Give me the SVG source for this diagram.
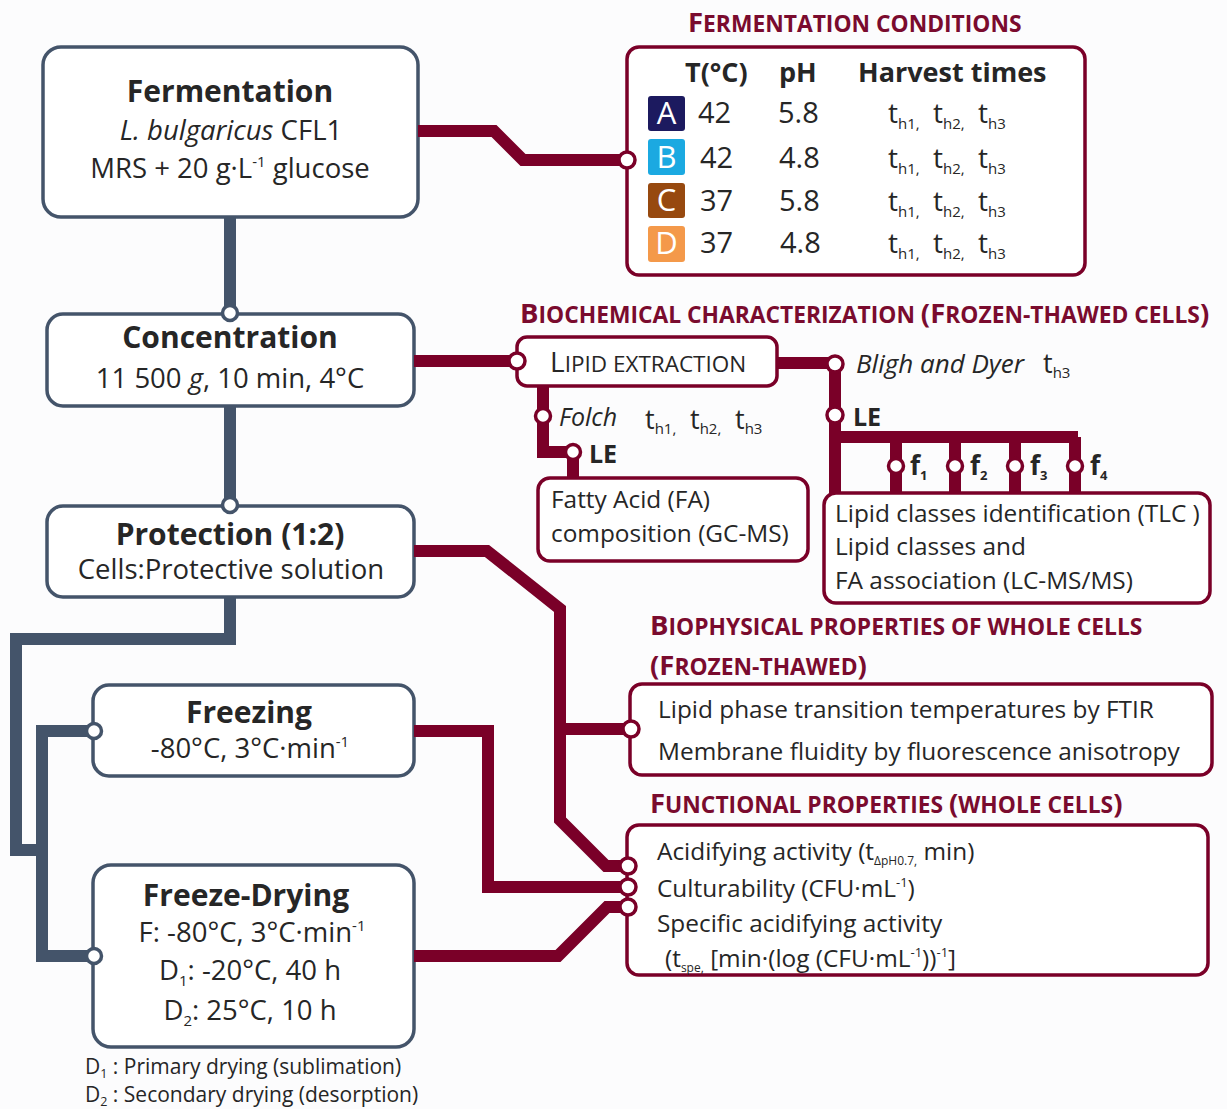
<svg xmlns="http://www.w3.org/2000/svg" width="1227" height="1109" viewBox="0 0 1227 1109">
  <style>
    text { font-family: "Open Sans", "Noto Sans", "DejaVu Sans", sans-serif; fill: #262626; }
    .ttl { font-size: 30px; font-weight: bold; text-anchor: middle; }
    .bd { font-size: 27.5px; text-anchor: middle; }
    .tx { font-size: 24.4px; }
    .hd { font-weight: bold; fill: #7a0b2e; }
    .big { font-size: 27.5px; }
    .sm { font-size: 22.8px; }
    .gbox { fill: #fff; stroke: #44546a; stroke-width: 3.5; }
    .rbox { fill: #fff; stroke: #7a0028; stroke-width: 3.5; }
    .gline { fill: none; stroke: #44546a; stroke-width: 12; stroke-linejoin: miter; }
    .rline { fill: none; stroke: #7a0028; stroke-width: 12; stroke-linejoin: miter; }
    .gdot { fill: #fff; stroke: #44546a; stroke-width: 3.5; }
    .rdot { fill: #fff; stroke: #7a0028; stroke-width: 3.5; }
    .key { fill: #fff; font-size: 31px; text-anchor: middle; }
  </style>
  <rect width="1227" height="1109" fill="#fcfcfd"/>

  <!-- process steps -->
  <g id="fermentation">
    <rect class="gbox" x="43" y="47" width="375" height="170" rx="18"/>
    <text class="ttl" x="230" y="102">Fermentation</text>
    <text class="bd" x="231" y="140" font-size="28.5"><tspan font-style="italic">L. bulgaricus</tspan> CFL1</text>
    <text class="bd" x="230" y="178" font-size="28.5">MRS + 20 g·L<tspan font-size="15" dy="-11">-1</tspan><tspan dy="11"> glucose</tspan></text>
  </g>
  <g id="concentration">
    <rect class="gbox" x="47" y="314" width="367" height="92" rx="16"/>
    <text class="ttl" x="230" y="348">Concentration</text>
    <text class="bd" x="230" y="388" font-size="28">11 500 <tspan font-style="italic">g</tspan>, 10 min, 4°C</text>
  </g>
  <g id="protection">
    <rect class="gbox" x="47" y="506" width="367" height="91" rx="16"/>
    <text class="ttl" x="230" y="545">Protection (1:2)</text>
    <text class="bd" x="231" y="579">Cells:Protective solution</text>
  </g>
  <g id="freezing">
    <rect class="gbox" x="93" y="685" width="321" height="91" rx="16"/>
    <text class="ttl" x="249" y="723">Freezing</text>
    <text class="bd" x="250" y="758">-80°C, 3°C·min<tspan font-size="15" dy="-11">-1</tspan></text>
  </g>
  <g id="freeze-drying">
    <rect class="gbox" x="93" y="865" width="321" height="182" rx="18"/>
    <text class="ttl" x="246" y="906">Freeze-Drying</text>
    <text class="bd" x="252" y="942">F: -80°C, 3°C·min<tspan font-size="15" dy="-11">-1</tspan></text>
    <text class="bd" x="250" y="980">D<tspan font-size="15" dy="6">1</tspan><tspan dy="-6">: -20°C, 40 h</tspan></text>
    <text class="bd" x="250" y="1020">D<tspan font-size="15" dy="6">2</tspan><tspan dy="-6">: 25°C, 10 h</tspan></text>
  </g>
  <g id="drying-notes">
    <text x="85" y="1074" font-size="21">D<tspan font-size="12.5" dy="4">1</tspan><tspan dy="-4"> : Primary drying (sublimation)</tspan></text>
    <text x="85" y="1102" font-size="21">D<tspan font-size="12.5" dy="4">2</tspan><tspan dy="-4"> : Secondary drying (desorption)</tspan></text>
  </g>

  <!-- fermentation conditions table -->
  <g id="fermentation-conditions">
    <text class="hd" x="688" y="32"><tspan class="big">F</tspan><tspan class="sm">ERMENTATION CONDITIONS</tspan></text>
    <rect class="rbox" x="627" y="47" width="458" height="228" rx="12"/>
    <g font-size="27" font-weight="bold">
      <text x="685" y="82">T(°C)</text>
      <text x="779" y="82">pH</text>
      <text x="858" y="82">Harvest times</text>
    </g>
    <rect x="648" y="96" width="37" height="35" rx="3" fill="#1c1a5f"/>
    <rect x="648" y="139" width="37" height="36" rx="3" fill="#1ba9e1"/>
    <rect x="648" y="183" width="37" height="35" rx="3" fill="#97490f"/>
    <rect x="648" y="226" width="37" height="36" rx="3" fill="#f4994a"/>
    <text class="key" x="666.5" y="124">A</text>
    <text class="key" x="666.5" y="168">B</text>
    <text class="key" x="666.5" y="211">C</text>
    <text class="key" x="666.5" y="254">D</text>
    <g font-size="29">
      <text x="698" y="123">42</text><text x="778" y="123">5.8</text>
      <text x="700" y="168">42</text><text x="779" y="168">4.8</text>
      <text x="700" y="211">37</text><text x="779" y="211">5.8</text>
      <text x="700" y="253">37</text><text x="780" y="253">4.8</text>
    </g>
    <g font-size="28">
      <text y="123"><tspan x="888">t</tspan><tspan font-size="15" dy="6">h1,</tspan><tspan x="933" dy="-6">t</tspan><tspan font-size="15" dy="6">h2,</tspan><tspan x="978" dy="-6">t</tspan><tspan font-size="15" dy="6">h3</tspan></text>
      <text y="168"><tspan x="888">t</tspan><tspan font-size="15" dy="6">h1,</tspan><tspan x="933" dy="-6">t</tspan><tspan font-size="15" dy="6">h2,</tspan><tspan x="978" dy="-6">t</tspan><tspan font-size="15" dy="6">h3</tspan></text>
      <text y="211"><tspan x="888">t</tspan><tspan font-size="15" dy="6">h1,</tspan><tspan x="933" dy="-6">t</tspan><tspan font-size="15" dy="6">h2,</tspan><tspan x="978" dy="-6">t</tspan><tspan font-size="15" dy="6">h3</tspan></text>
      <text y="253"><tspan x="888">t</tspan><tspan font-size="15" dy="6">h1,</tspan><tspan x="933" dy="-6">t</tspan><tspan font-size="15" dy="6">h2,</tspan><tspan x="978" dy="-6">t</tspan><tspan font-size="15" dy="6">h3</tspan></text>
    </g>
  </g>

  <!-- biochemical characterization -->
  <g id="biochemical-title">
    <text class="hd" x="520" y="323"><tspan class="big">B</tspan><tspan class="sm">IOCHEMICAL CHARACTERIZATION </tspan><tspan class="big">(F</tspan><tspan class="sm">ROZEN-THAWED CELLS</tspan><tspan class="big">)</tspan></text>
  </g>
  <g id="lipid-extraction">
    <rect class="rbox" x="517" y="337" width="260" height="49" rx="10"/>
    <text x="550" y="372"><tspan font-size="28">L</tspan><tspan font-size="22.5">IPID EXTRACTION</tspan></text>
  </g>
  <g id="folch-label">
    <text x="559" y="426" font-size="25" font-style="italic">Folch</text>
    <text font-size="27" y="429"><tspan x="645">t</tspan><tspan font-size="15" dy="5">h1,</tspan><tspan x="690" dy="-5">t</tspan><tspan font-size="15" dy="5">h2,</tspan><tspan x="735" dy="-5">t</tspan><tspan font-size="15" dy="5">h3</tspan></text>
    <text x="589" y="463" font-size="25" font-weight="bold">LE</text>
  </g>
  <g id="fatty-acid">
    <rect class="rbox" x="538" y="478" width="270" height="83" rx="12"/>
    <text class="tx" x="551" y="508">Fatty Acid (FA)</text>
    <text class="tx" x="551" y="542">composition (GC-MS)</text>
  </g>
  <g id="bligh-dyer-label">
    <text x="856" y="373" font-size="26" font-style="italic">Bligh and Dyer</text>
    <text font-size="27" y="373"><tspan x="1043">t</tspan><tspan font-size="15" dy="5">h3</tspan></text>
    <text x="853" y="426" font-size="25" font-weight="bold">LE</text>
    <g font-weight="bold" font-size="26">
      <text x="910" y="475">f<tspan font-size="13" dy="5">1</tspan></text>
      <text x="970" y="475">f<tspan font-size="13" dy="5">2</tspan></text>
      <text x="1030" y="475">f<tspan font-size="13" dy="5">3</tspan></text>
      <text x="1090" y="475">f<tspan font-size="13" dy="5">4</tspan></text>
    </g>
  </g>
  <g id="lipid-classes">
    <rect class="rbox" x="824" y="493" width="386" height="110" rx="12"/>
    <text class="tx" x="835" y="522">Lipid classes identification (TLC )</text>
    <text class="tx" x="835" y="555">Lipid classes and</text>
    <text class="tx" x="835" y="589">FA association (LC-MS/MS)</text>
  </g>

  <!-- biophysical properties -->
  <g id="biophysical">
    <text class="hd" x="650" y="635"><tspan class="big">B</tspan><tspan class="sm">IOPHYSICAL PROPERTIES OF WHOLE CELLS</tspan></text>
    <text class="hd" x="650" y="675"><tspan class="big">(F</tspan><tspan class="sm">ROZEN-THAWED</tspan><tspan class="big">)</tspan></text>
    <rect class="rbox" x="630" y="684" width="582" height="91" rx="12"/>
    <text class="tx" x="658" y="718">Lipid phase transition temperatures by FTIR</text>
    <text class="tx" x="658" y="760">Membrane fluidity by fluorescence anisotropy</text>
  </g>

  <!-- functional properties -->
  <g id="functional">
    <text class="hd" x="650" y="813"><tspan class="big">F</tspan><tspan class="sm">UNCTIONAL PROPERTIES </tspan><tspan class="big">(</tspan><tspan class="sm">WHOLE CELLS</tspan><tspan class="big">)</tspan></text>
    <rect class="rbox" x="627" y="825" width="581" height="150" rx="12"/>
    <text class="tx" x="657" y="860">Acidifying activity (t<tspan font-size="12" dy="5">ΔpH0.7,</tspan><tspan dy="-5"> min)</tspan></text>
    <text class="tx" x="657" y="897">Culturability (CFU·mL<tspan font-size="13" dy="-10">-1</tspan><tspan dy="10">)</tspan></text>
    <text class="tx" x="657" y="932">Specific acidifying activity</text>
    <text class="tx" x="665" y="967">(t<tspan font-size="12" dy="5">spe,</tspan><tspan dy="-5"> [min·(log (CFU·mL</tspan><tspan font-size="13" dy="-10">-1</tspan><tspan dy="10">))</tspan><tspan font-size="13" dy="-10">-1</tspan><tspan dy="10">]</tspan></text>
  </g>

  <!-- connectors -->
  <g id="connectors">
    <!-- process line -->
    <path class="gline" d="M230,217 V313"/>
    <path class="gline" d="M230,406 V505"/>
    <path class="gline" d="M230,597 V639 H16 V850 H42"/>
    <path class="gline" d="M94,731 H42 V956 H94"/>
    <circle class="gdot" cx="230" cy="313" r="7.5"/>
    <circle class="gdot" cx="230" cy="505" r="7.5"/>
    <circle class="gdot" cx="94" cy="731" r="7.5"/>
    <circle class="gdot" cx="94" cy="956" r="7.5"/>

    <!-- analysis lines -->
    <path class="rline" d="M418,131 H494 L523,160 H627"/>
    <path class="rline" d="M414,361 H517"/>
    <path class="rline" d="M414,551 H487 L560,609 V820 L606,866 H628"/>
    <path class="rline" d="M560,729 H631"/>
    <path class="rline" d="M414,731 H488 V887 H628"/>
    <path class="rline" d="M414,956 H558 L607,907 H628"/>

    <!-- lipid branches -->
    <path class="rline" stroke-width="7" d="M543,386 V452 H573"/>
    <path class="rline" stroke-width="4" d="M573,452 V478"/>
    <path class="rline" stroke-width="10" d="M777,363 H835"/>
    <path class="rline" stroke-width="7" d="M835,363 V493"/>
    <path class="rline" stroke-width="7" d="M835,437 H1078"/>
    <path class="rline" stroke-width="5" d="M896,437 V493 M955,437 V493 M1015,437 V493 M1075,437 V493"/>

    <circle class="rdot" cx="627" cy="160" r="8"/>
    <circle class="rdot" cx="517" cy="361" r="8"/>
    <circle class="rdot" cx="543" cy="416" r="7.5"/>
    <circle class="rdot" cx="573" cy="452" r="7.5"/>
    <circle class="rdot" cx="835" cy="364" r="8"/>
    <circle class="rdot" cx="835" cy="415" r="8"/>
    <circle class="rdot" cx="896" cy="466" r="7.5"/>
    <circle class="rdot" cx="955" cy="466" r="7.5"/>
    <circle class="rdot" cx="1015" cy="466" r="7.5"/>
    <circle class="rdot" cx="1075" cy="466" r="7.5"/>
    <circle class="rdot" cx="631" cy="729" r="8"/>
    <circle class="rdot" cx="628" cy="866" r="8"/>
    <circle class="rdot" cx="628" cy="887" r="8"/>
    <circle class="rdot" cx="628" cy="907" r="8"/>
  </g>
</svg>
